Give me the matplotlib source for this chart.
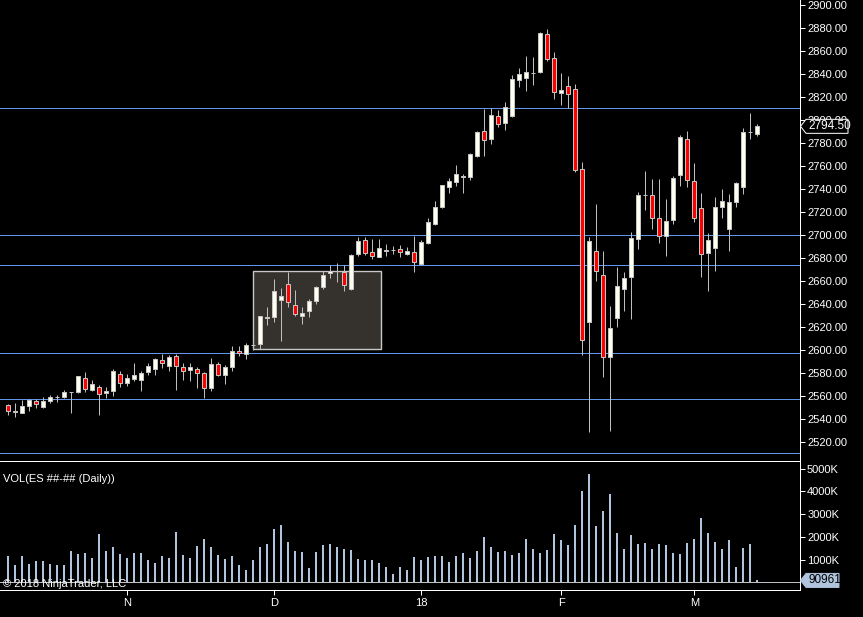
import matplotlib
matplotlib.use("Agg")
import matplotlib.pyplot as plt
from matplotlib.patches import Rectangle, Polygon

plt.rcParams["font.family"] = ["Liberation Sans", "DejaVu Sans"]

# daily ES bars, oldest first
opens = [2552.0, 2546.5, 2545.5, 2551.5, 2555.75, 2550.75, 2555.5, 2559.25, 2559.5, 2563.25,
         2563.75, 2575.5, 2565.25, 2567.5, 2562.5, 2564.0, 2579.0, 2571.0, 2575.0, 2574.25,
         2580.5, 2583.25, 2591.0, 2586.25, 2594.5, 2585.0, 2583.0, 2583.5, 2580.0, 2567.25,
         2587.75, 2578.5, 2585.0, 2599.0, 2596.25, 2604.25, 2605.0, 2628.25, 2628.5, 2643.75,
         2657.5, 2639.0, 2629.75, 2633.5, 2642.25, 2655.0, 2666.75, 2668.75, 2668.0, 2652.75,
         2683.25, 2695.5, 2685.0, 2681.0, 2686.5, 2687.0, 2687.5, 2683.75, 2685.0, 2675.0,
         2693.25, 2709.75, 2724.5, 2742.0, 2746.5, 2750.75, 2750.25, 2769.0, 2790.25, 2783.25,
         2803.75, 2797.0, 2803.75, 2835.0, 2836.75, 2840.75, 2841.75, 2874.75, 2854.0, 2823.75,
         2829.5, 2826.75, 2757.0, 2624.0, 2685.75, 2665.0, 2593.5, 2628.0, 2653.25, 2663.25,
         2696.25, 2734.5, 2734.5, 2714.5, 2699.0, 2712.75, 2752.0, 2783.75, 2746.75, 2723.25,
         2684.0, 2688.5, 2724.0, 2705.0, 2728.5, 2742.0, 2789.25, 2787.5]
highs = [2553.0, 2554.0, 2556.5, 2557.0, 2557.0, 2559.0, 2560.5, 2561.0, 2565.25, 2563.75,
         2577.5, 2581.0, 2573.5, 2569.25, 2567.75, 2583.75, 2581.5, 2579.0, 2588.75, 2581.75,
         2588.75, 2593.0, 2596.5, 2595.5, 2596.5, 2588.5, 2588.75, 2585.25, 2580.5, 2593.0,
         2589.5, 2587.0, 2603.5, 2603.5, 2605.75, 2607.75, 2629.5, 2637.0, 2661.5, 2653.5,
         2668.0, 2652.25, 2637.5, 2644.25, 2655.75, 2668.5, 2673.5, 2675.75, 2673.5, 2683.5,
         2698.5, 2698.25, 2696.25, 2696.25, 2692.25, 2690.5, 2691.25, 2689.25, 2699.5, 2696.0,
         2714.5, 2729.25, 2743.5, 2749.5, 2761.0, 2753.0, 2771.0, 2790.25, 2809.5, 2810.25,
         2808.5, 2815.75, 2839.0, 2845.25, 2855.75, 2854.75, 2876.5, 2879.0, 2859.0, 2841.0,
         2838.25, 2831.25, 2763.75, 2698.5, 2727.0, 2686.5, 2638.25, 2672.25, 2667.75, 2702.25,
         2737.0, 2755.75, 2748.75, 2748.75, 2731.25, 2751.0, 2787.0, 2790.5, 2762.5, 2736.5,
         2701.5, 2733.0, 2740.0, 2735.5, 2746.0, 2793.0, 2806.0, 2796.25]
lows = [2543.75, 2542.0, 2545.0, 2547.25, 2549.25, 2550.0, 2554.25, 2555.0, 2558.5, 2545.5,
        2562.25, 2563.75, 2564.25, 2543.5, 2558.5, 2560.25, 2568.0, 2569.0, 2573.25, 2564.5,
        2578.25, 2578.25, 2584.0, 2581.75, 2565.25, 2574.0, 2573.0, 2567.25, 2558.25, 2564.25,
        2577.75, 2570.5, 2582.0, 2595.0, 2592.5, 2600.0, 2601.0, 2622.0, 2624.25, 2608.0,
        2637.0, 2629.75, 2623.0, 2628.75, 2640.25, 2652.75, 2662.25, 2659.5, 2651.5, 2652.25,
        2681.75, 2682.5, 2679.5, 2681.0, 2681.75, 2683.5, 2681.0, 2682.25, 2667.75, 2674.25,
        2692.25, 2708.5, 2723.75, 2736.75, 2743.0, 2736.75, 2748.0, 2767.5, 2769.0, 2779.5,
        2794.25, 2791.5, 2803.0, 2829.0, 2825.5, 2830.75, 2841.0, 2851.5, 2818.25, 2813.0,
        2810.25, 2755.0, 2595.75, 2529.0, 2660.0, 2576.75, 2529.75, 2620.0, 2634.0, 2627.25,
        2688.0, 2722.0, 2705.5, 2693.25, 2682.0, 2709.75, 2743.0, 2742.0, 2711.5, 2663.75,
        2651.5, 2669.0, 2715.0, 2686.25, 2724.5, 2736.0, 2783.75, 2786.25]
closes = [2547.25, 2547.0, 2551.0, 2556.5, 2552.75, 2555.75, 2559.0, 2559.5, 2563.25, 2563.5,
          2577.0, 2566.5, 2570.25, 2561.5, 2564.25, 2581.5, 2571.0, 2575.5, 2578.0, 2579.75,
          2585.75, 2592.0, 2589.0, 2594.0, 2586.25, 2582.0, 2585.25, 2580.25, 2567.25, 2587.75,
          2578.5, 2585.25, 2599.0, 2597.0, 2604.0, 2604.75, 2629.25, 2628.75, 2651.0, 2646.75,
          2641.5, 2631.0, 2632.0, 2642.5, 2654.75, 2665.0, 2668.5, 2669.0, 2656.25, 2682.25,
          2694.5, 2684.0, 2681.5, 2688.5, 2686.75, 2687.25, 2685.5, 2686.0, 2676.25, 2693.75,
          2711.25, 2724.0, 2743.25, 2746.75, 2752.75, 2751.25, 2770.25, 2789.25, 2783.0, 2804.0,
          2796.25, 2811.0, 2835.5, 2840.0, 2841.75, 2841.25, 2875.75, 2853.25, 2824.5, 2826.0,
          2823.0, 2756.75, 2608.5, 2694.5, 2668.5, 2593.5, 2619.0, 2655.5, 2662.25, 2697.0,
          2734.5, 2735.0, 2714.5, 2699.0, 2712.0, 2749.25, 2785.0, 2747.75, 2714.5, 2683.25,
          2695.5, 2724.0, 2729.25, 2728.5, 2745.0, 2789.25, 2789.5, 2794.5]
# volume in thousands of contracts (last bar is the partial session)
volumes = [1170, 780, 1170, 830, 960, 960, 830, 780, 780, 1390,
           1260, 1300, 1090, 2130, 1390, 1570, 1260, 1090, 1300, 1300,
           1000, 870, 1170, 1090, 2220, 1220, 1090, 1610, 1910, 1570,
           1220, 1040, 1170, 780, 570, 1000, 1570, 1700, 2350, 2520,
           1780, 1390, 1350, 650, 1350, 1650, 1700, 1570, 1480, 1430,
           1040, 1000, 1000, 870, 700, 390, 700, 570, 1130, 1000,
           1130, 1170, 1170, 910, 1170, 1300, 1090, 1390, 2000, 1570,
           1350, 1390, 1220, 1300, 1910, 1480, 1300, 1430, 2130, 1870,
           1650, 2520, 4000, 4780, 2480, 3130, 3910, 2170, 1480, 2090,
           1700, 1740, 1480, 1700, 1650, 1300, 1260, 1740, 1910, 2830,
           2170, 1780, 1480, 1870, 700, 1520, 1700, 91]
last_volume = 90961

levels = [2810.25, 2700.0, 2674.0, 2597.0, 2557.25, 2510.5]
month_pos = [17, 38, 59, 79, 98]
month_labels = ["N", "D", "18", "F", "M"]
# consolidation box: bar range and price range
box_bars = (35, 53.2)
box_prices = (2600.5, 2668.5)

W, H = 863, 617
BG = "black"
WICK = "#BEBEBE"
EDGE = "#C4C4C4"
UP = "#FFFFF0"
DOWN = "#FF0000"
LEVEL = "#6495ED"
VOL = "#B0C4DE"
PX = 0.72  # one pixel in points


def frac(x0, y0, x1, y1):
    return [x0 / W, 1 - y1 / H, (x1 - x0) / W, (y1 - y0) / H]


fig = plt.figure(figsize=(W / 100, H / 100), dpi=100, facecolor=BG)
ax = fig.add_axes(frac(0, 0, 800, 461), facecolor=BG)
axv = fig.add_axes(frac(0, 461, 800, 590), facecolor=BG, sharex=ax)

n = len(closes)
idx = list(range(n))
ax.set_xlim(-8.3 / 7, (800 - 8.3) / 7)
ax.set_ylim(2503.5, 2904.35)

# horizontal levels and box behind the candles
for lv in levels:
    ax.axhline(lv, color=LEVEL, lw=PX, zorder=1)
ax.add_patch(Rectangle((box_bars[0], box_prices[0]), box_bars[1] - box_bars[0],
                       box_prices[1] - box_prices[0], facecolor="#35312C",
                       edgecolor="#C8C8C8", lw=1.4 * PX, zorder=2))

ax.vlines(idx, lows, highs, color=WICK, lw=PX, zorder=3)
for i in idx:
    o, c = opens[i], closes[i]
    fc = DOWN if c < o else UP
    ax.add_patch(Rectangle((i - 0.31, min(o, c)), 0.62, max(abs(c - o), 0.05),
                           facecolor=fc, edgecolor=EDGE, lw=PX, zorder=4))

# volume panel
axv.set_ylim(-330, 5340)
axv.axhline(0, color="#C0C0C0", lw=PX, zorder=1)
axv.bar(idx, volumes, width=0.3, color=VOL, zorder=2)

# spines
for s in ["top", "left", "bottom"]:
    ax.spines[s].set_visible(False)
ax.spines["right"].set_color("white")
ax.spines["right"].set_linewidth(PX)
axv.spines["left"].set_visible(False)
for s in ["top", "right", "bottom"]:
    axv.spines[s].set_color("white")
    axv.spines[s].set_linewidth(PX)

ax.yaxis.tick_right()
ax.set_yticks(range(2520, 2901, 20))
ax.set_yticklabels(["{:.2f}".format(v) for v in range(2520, 2901, 20)])
ax.tick_params(axis="y", colors="white", labelsize=8, length=3.6, width=PX, pad=1.5)
ax.tick_params(axis="x", bottom=False, labelbottom=False)

axv.yaxis.tick_right()
axv.set_yticks([1000, 2000, 3000, 4000, 5000])
axv.set_yticklabels(["{:d}K".format(v) for v in [1000, 2000, 3000, 4000, 5000]])
axv.tick_params(axis="y", colors="white", labelsize=8, length=3.6, width=PX, pad=1.5)
axv.set_xticks(month_pos)
axv.set_xticklabels(month_labels)
axv.tick_params(axis="x", colors="white", labelsize=8, length=3.6, width=PX, pad=2)

fig.text(3 / W, 1 - 479.5 / H, "VOL(ES ##-## (Daily))", color="white",
         fontsize=8, va="center", ha="left")
fig.text(3 / W, 1 - 584 / H, "\u00a9 2018 NinjaTrader, LLC", color="white",
         fontsize=8, va="center", ha="left", zorder=6)


def tag(axis, value, text, fc, ec, tc, x_right):
    disp = axis.transData.transform((0, value))
    yf = fig.transFigure.inverted().transform(disp)[1]
    y = (1 - yf) * H
    h = 7
    pts = [(800.5, y), (806, y - h), (x_right, y - h), (x_right, y + h), (806, y + h)]
    pts = [(px / W, 1 - py / H) for px, py in pts]
    fig.add_artist(Polygon(pts, closed=True, facecolor=fc, edgecolor=ec, lw=PX,
                           transform=fig.transFigure, zorder=5))
    fig.text(808 / W, 1 - y / H, text, color=tc, fontsize=8.5, va="center",
             ha="left", zorder=6)


tag(ax, closes[-1], "{:.2f}".format(closes[-1]), BG, "white", "white", 848)
tag(axv, volumes[-1], "{:d}".format(last_volume), VOL, VOL, "black", 839)

fig.savefig("out.png", dpi=100, facecolor=BG)
